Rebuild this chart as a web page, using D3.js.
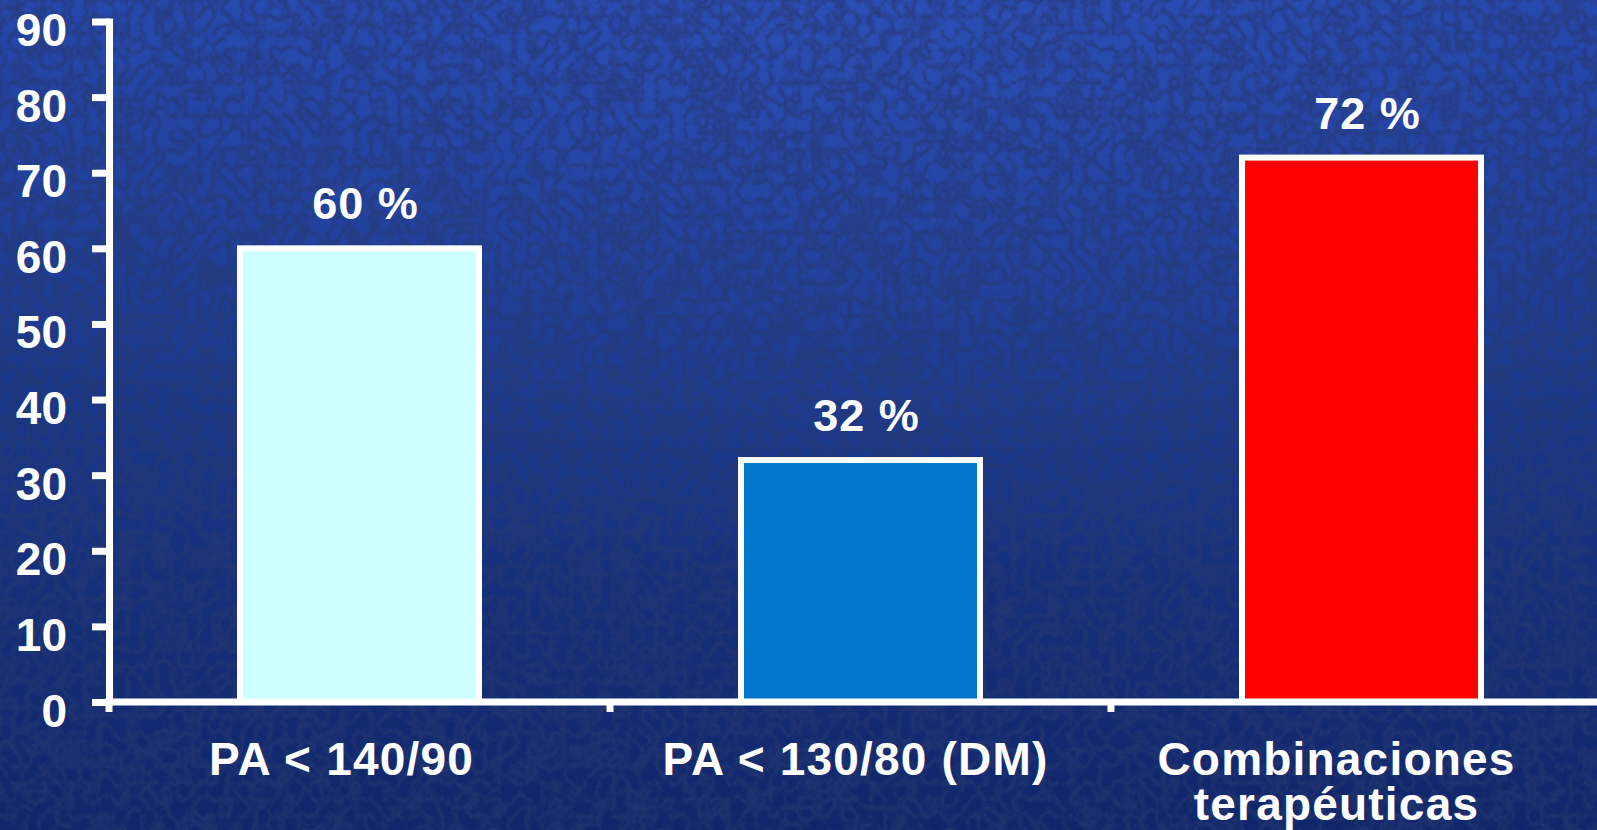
<!DOCTYPE html>
<html>
<head>
<meta charset="utf-8">
<script src="https://cdn.jsdelivr.net/npm/d3@7/dist/d3.min.js"></script>
<style>
  html, body { margin: 0; padding: 0; background: #12296f; overflow: hidden; }
  svg { display: block; }
  text { font-family: "Liberation Sans", Arial, Helvetica, sans-serif; font-weight: bold; fill: #ffffff; }
</style>
</head>
<body>
<svg id="chart" width="1597" height="830"></svg>
<script>
// Control rates reached (%), by target
const categories = ["PA < 140/90", "PA < 130/80 (DM)", "Combinaciones terapéuticas"];
const categoryLines = [["PA < 140/90"], ["PA < 130/80 (DM)"], ["Combinaciones", "terapéuticas"]];
const values = [60, 32, 72];
const valueLabels = ["60 %", "32 %", "72 %"];
const barColors = ["#ccffff", "#0077cc", "#ff0000"];
const yTicks = [0, 10, 20, 30, 40, 50, 60, 70, 80, 90];

const W = 1597, H = 830;
const svg = d3.select("#chart");

// ---- textured blue backdrop ----
const defs = svg.append("defs");
const bg = defs.append("linearGradient").attr("id", "bgGrad")
  .attr("x1", 0).attr("y1", 0).attr("x2", 0).attr("y2", 1);
bg.append("stop").attr("offset", "0%").attr("stop-color", "#2446aa");
bg.append("stop").attr("offset", "45%").attr("stop-color", "#1a388a");
bg.append("stop").attr("offset", "100%").attr("stop-color", "#10266a");

const glow = defs.append("radialGradient").attr("id", "glow")
  .attr("cx", 0.55).attr("cy", 0.0).attr("r", 0.7);
glow.append("stop").attr("offset", "0%").attr("stop-color", "#3a5ccc").attr("stop-opacity", 0.35);
glow.append("stop").attr("offset", "100%").attr("stop-color", "#3a5ccc").attr("stop-opacity", 0);

const fib = defs.append("filter").attr("id", "fibers")
  .attr("x", 0).attr("y", 0).attr("width", "100%").attr("height", "100%");
fib.append("feTurbulence").attr("type", "turbulence")
  .attr("baseFrequency", "0.07 0.06").attr("numOctaves", 3).attr("seed", 7).attr("result", "t");
fib.append("feColorMatrix").attr("in", "t").attr("type", "matrix")
  .attr("values", "0 0 0 0 0.02  0 0 0 0 0.04  0 0 0 0 0.16  -2.2 0 0 0 1.0");

svg.append("rect").attr("width", W).attr("height", H).attr("fill", "url(#bgGrad)");
svg.append("rect").attr("width", W).attr("height", H).attr("fill", "url(#glow)");
svg.append("rect").attr("width", W).attr("height", H).attr("filter", "url(#fibers)").attr("opacity", 0.75);

// ---- scales ----
const y = d3.scaleLinear().domain([0, 90]).range([702, 21.5]);
const x = d3.scaleBand().domain(categories).range([109, 1612]).padding(0);
const barW = x.step() * 0.477;

const white = "#ffffff";
const axisW = 7;

// ---- bars ----
svg.append("g").selectAll("rect")
  .data(categories)
  .join("rect")
  .attr("x", (d) => x(d) + x.bandwidth() / 2 - barW / 2)
  .attr("y", (d, i) => y(values[i]))
  .attr("width", barW)
  .attr("height", (d, i) => y(0) - y(values[i]))
  .attr("fill", (d, i) => barColors[i])
  .attr("stroke", white)
  .attr("stroke-width", 6);

// ---- value labels ----
svg.append("g").selectAll("text")
  .data(categories)
  .join("text")
  .attr("x", (d) => x(d) + x.bandwidth() / 2 + 6)
  .attr("y", (d, i) => y(values[i]) - 29)
  .attr("text-anchor", "middle")
  .attr("font-size", 45)
  .attr("letter-spacing", 1)
  .text((d, i) => valueLabels[i]);

// ---- y axis ----
const yAxis = svg.append("g")
  .attr("transform", "translate(109,0)")
  .call(d3.axisLeft(y).tickValues(yTicks).tickSize(17).tickSizeOuter(0).tickPadding(25));
yAxis.select(".domain")
  .attr("stroke", white).attr("stroke-width", axisW).attr("stroke-linecap", "square");
yAxis.selectAll(".tick line").attr("stroke", white).attr("stroke-width", axisW);
yAxis.selectAll(".tick text")
  .attr("fill", white)
  .attr("font-size", 46)
  .attr("dy", 24)
  .style("font-family", "'Liberation Sans', Arial, sans-serif")
  .style("font-weight", "bold");

// ---- x axis ----
svg.append("line")
  .attr("x1", 105).attr("x2", W)
  .attr("y1", y(0)).attr("y2", y(0))
  .attr("stroke", white).attr("stroke-width", axisW);

svg.append("g").selectAll("line")
  .data(categories)
  .join("line")
  .attr("x1", (d) => x(d)).attr("x2", (d) => x(d))
  .attr("y1", y(0)).attr("y2", y(0) + 10)
  .attr("stroke", white).attr("stroke-width", axisW);

// ---- category labels ----
const labelNudge = [-18, -5, -25];
const cat = svg.append("g").selectAll("text")
  .data(categories)
  .join("text")
  .attr("text-anchor", "middle")
  .attr("font-size", 46)
  .attr("letter-spacing", 1.2)
  .attr("x", (d, i) => x(d) + x.bandwidth() / 2 + labelNudge[i])
  .attr("y", 775);
cat.selectAll("tspan")
  .data((d, i) => categoryLines[i])
  .join("tspan")
  .attr("x", function () { return d3.select(this.parentNode).attr("x"); })
  .attr("dy", (d, j) => (j === 0 ? 0 : 45))
  .text((d) => d);
</script>
</body>
</html>
